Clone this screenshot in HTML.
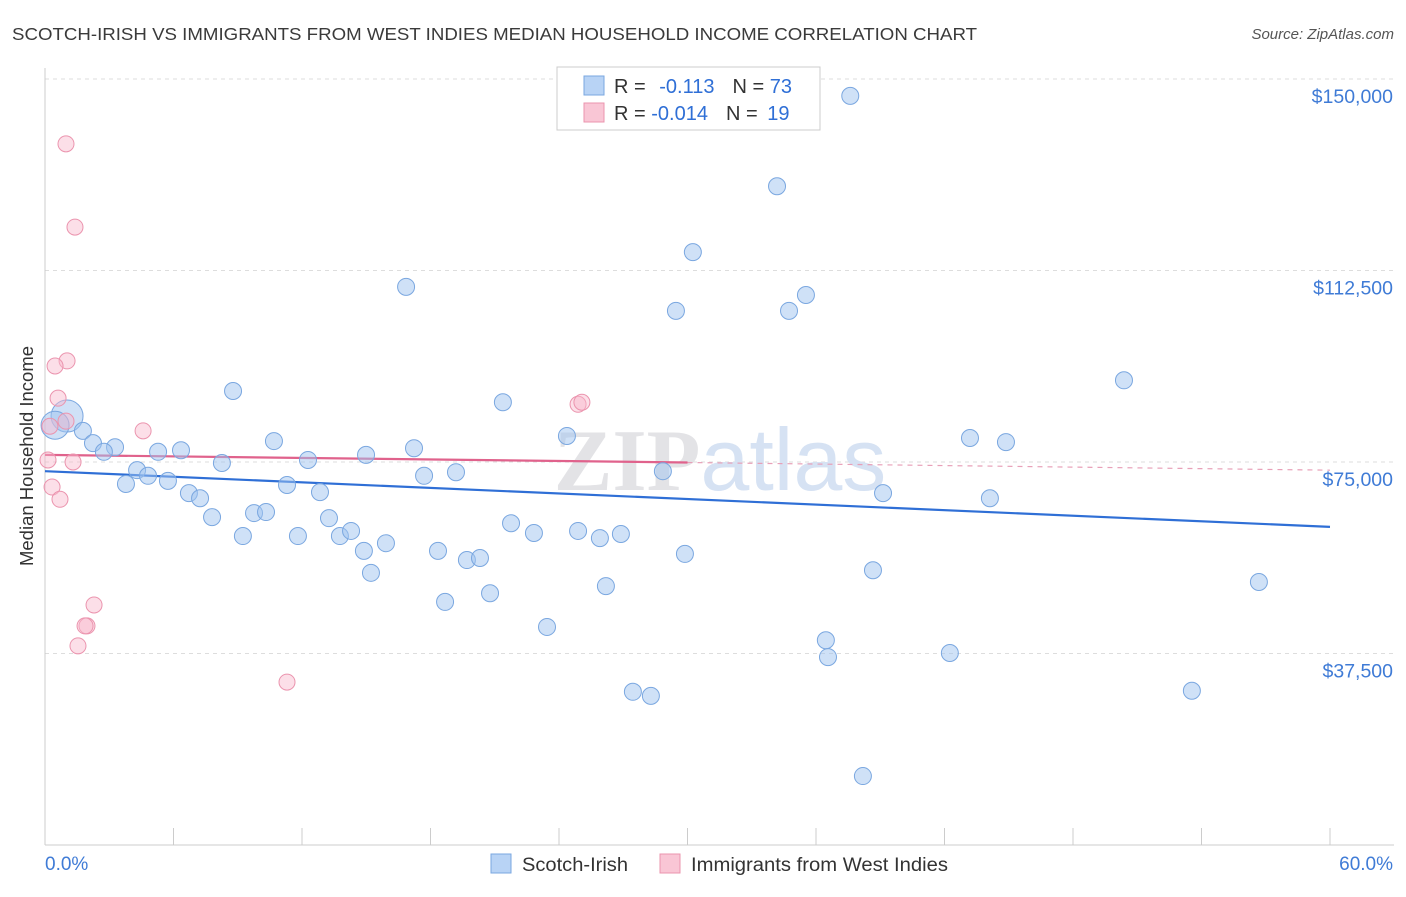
<!DOCTYPE html>
<html><head><meta charset="utf-8"><style>
body{margin:0;background:#fff;font-family:"Liberation Sans",sans-serif;}
</style></head><body>
<svg id="chart" width="1406" height="892" xmlns="http://www.w3.org/2000/svg" font-family="Liberation Sans, sans-serif">
<text x="12" y="40" font-size="17.5" fill="#3a3a3a" textLength="965" lengthAdjust="spacingAndGlyphs">SCOTCH-IRISH VS IMMIGRANTS FROM WEST INDIES MEDIAN HOUSEHOLD INCOME CORRELATION CHART</text>
<text x="1394" y="39" font-size="15" fill="#555" text-anchor="end" font-style="italic">Source: ZipAtlas.com</text>
<text transform="translate(33,456) rotate(-90)" font-size="18.5" fill="#333" text-anchor="middle">Median Household Income</text>
<g id="grid"></g>
<text x="720" y="490" font-size="88" fill="#e3e3e6" text-anchor="middle" font-family="Liberation Serif, serif" font-weight="bold">ZIP<tspan fill="#d6e2f3" font-family="Liberation Sans, sans-serif" font-weight="normal">atlas</tspan></text>
<g id="trends"></g>
<g id="points"></g>
<g>
<rect x="557" y="67" width="263" height="63" fill="#fff" stroke="#ccc"/>
<rect x="584" y="76" width="20" height="19" fill="#b8d3f5" stroke="#7aa7e0"/>
<rect x="584" y="103" width="20" height="19" fill="#f9c6d5" stroke="#eb94ae"/>
<text x="614" y="93" font-size="20" fill="#333">R = <tspan fill="#2f6fd6" dx="8">-0.113</tspan><tspan dx="18" fill="#333">N = </tspan><tspan fill="#2f6fd6">73</tspan></text>
<text x="614" y="120" font-size="20" fill="#333">R = <tspan fill="#2f6fd6">-0.014</tspan><tspan dx="18" fill="#333">N = </tspan><tspan fill="#2f6fd6" dx="4">19</tspan></text>
</g>
<g>
<rect x="491" y="854" width="20" height="19" fill="#b8d3f5" stroke="#7aa7e0"/>
<text x="522" y="871" font-size="19" fill="#333" textLength="106" lengthAdjust="spacingAndGlyphs">Scotch-Irish</text>
<rect x="660" y="854" width="20" height="19" fill="#f9c6d5" stroke="#eb94ae"/>
<text x="691" y="871" font-size="19" fill="#333" textLength="257" lengthAdjust="spacingAndGlyphs">Immigrants from West Indies</text>
</g>
</svg>
<script>
const yTicks=[37500,75000,112500,150000];
const yTickLabels=["$37,500","$75,000","$112,500","$150,000"];
const xTickLabels=["0.0%","60.0%"];
const blueX=[37.6,34.18,30.25,16.86,29.46,35.53,34.74,50.38,8.78,21.38,1.03,0.47,1.77,2.24,3.27,2.75,5.28,6.35,10.69,24.37,17.23,14.99,12.28,8.26,43.19,44.87,4.30,4.81,5.74,3.78,17.70,19.19,28.85,11.30,6.72,7.24,12.84,39.13,44.12,7.80,9.76,10.32,13.26,21.76,9.24,11.81,13.77,14.29,14.89,15.92,18.35,19.70,20.31,22.83,24.89,25.91,26.89,29.88,15.22,38.66,56.68,26.19,20.78,18.68,23.44,36.46,36.56,42.25,27.45,28.29,53.55,38.19];
const blueY=[146700,129000,116100,109300,104600,107700,104600,91000,88900,86700,84000,82200,81100,78700,77900,77000,77000,77300,79100,80100,77700,76400,75400,74800,79700,78900,73400,72300,71300,70700,72300,73000,73200,70500,68900,67900,69100,68900,67900,64200,65000,65200,64000,63000,60500,60500,60500,61500,57600,59100,57600,55800,56200,61100,61500,60100,60900,57000,53300,53800,51500,50700,49300,47600,42700,40100,36800,37600,30000,29200,30200,13500];
const pinkX=[0.98,1.40,1.03,0.47,0.61,0.98,0.23,4.58,0.14,1.31,0.33,0.70,24.89,25.07,2.29,1.96,1.87,1.54,11.30];
const pinkY=[137300,121000,94800,93800,87500,83000,82000,81100,75400,75000,70100,67700,86300,86700,47000,42900,42900,39000,31900];
const blueTrend=[73200,62300];
const pinkTrend=[76400,73400];
const pinkSolidEnd=30;
const NS="http://www.w3.org/2000/svg";
const X=p=>45+p/60*1285;
const Y=v=>845-v/150000*766;
function mk(t,a,parent){const e=document.createElementNS(NS,t);for(const k in a)e.setAttribute(k,a[k]);parent.appendChild(e);return e;}
const grid=document.getElementById('grid');
yTicks.forEach((v,i)=>{
 const l=mk('line',{x1:45,x2:1394,y1:Y(v),y2:Y(v),stroke:'#ddd','stroke-dasharray':'4,4'},grid);
 
 
 const t=mk('text',{x:1393,y:Y(v)+24,'font-size':19.5,fill:'#3f7bd6','text-anchor':'end'},grid);
 t.textContent=yTickLabels[i];
 
 
});
const ax=mk('line',{x1:45,x2:45,y1:68,y2:845,stroke:'#ccc'},grid);


const bx=mk('line',{x1:45,x2:1394,y1:845,y2:845,stroke:'#ccc'},grid);


for(let i=0;i<=10;i++){
 const t=mk('line',{x1:X(i*6),x2:X(i*6),y1:828,y2:845,stroke:'#ccc'},grid);
 
 
}
[[0,45,'start'],[1,1393,'end']].forEach(([i,x,a])=>{
 const t=mk('text',{x:x,y:870,'font-size':19,fill:'#3f7bd6','text-anchor':a},grid);
 t.textContent=xTickLabels[i];
 
 
});
const tr=document.getElementById('trends');
const pts=document.getElementById('points');
blueX.forEach((x,i)=>{
 const r=(i==10)?16:(i==11?14:8.5);
 const c=mk('circle',{cx:X(x),cy:Y(blueY[i]),r:r,fill:'rgba(160,196,240,0.5)',stroke:'#7aa7e0','stroke-width':1},pts);
 
 
});
pinkX.forEach((x,i)=>{
 const c=mk('circle',{cx:X(x),cy:Y(pinkY[i]),r:8,fill:'rgba(248,185,205,0.45)',stroke:'#eb94ae','stroke-width':1},pts);
 
 
});
const bl=mk('line',{x1:X(0),y1:Y(blueTrend[0]),x2:X(60),y2:Y(blueTrend[1]),stroke:'#2f6fd6','stroke-width':2.2},tr);


const pm=pinkTrend[0]+(pinkTrend[1]-pinkTrend[0])*pinkSolidEnd/60;
const pl=mk('line',{x1:X(0),y1:Y(pinkTrend[0]),x2:X(pinkSolidEnd),y2:Y(pm),stroke:'#e0628c','stroke-width':2.2},tr);


const pd=mk('line',{x1:X(pinkSolidEnd),y1:Y(pm),x2:X(60),y2:Y(pinkTrend[1]),stroke:'#e8a0b8','stroke-width':1.2,'stroke-dasharray':'5,5'},tr);


</script>
</body></html>
